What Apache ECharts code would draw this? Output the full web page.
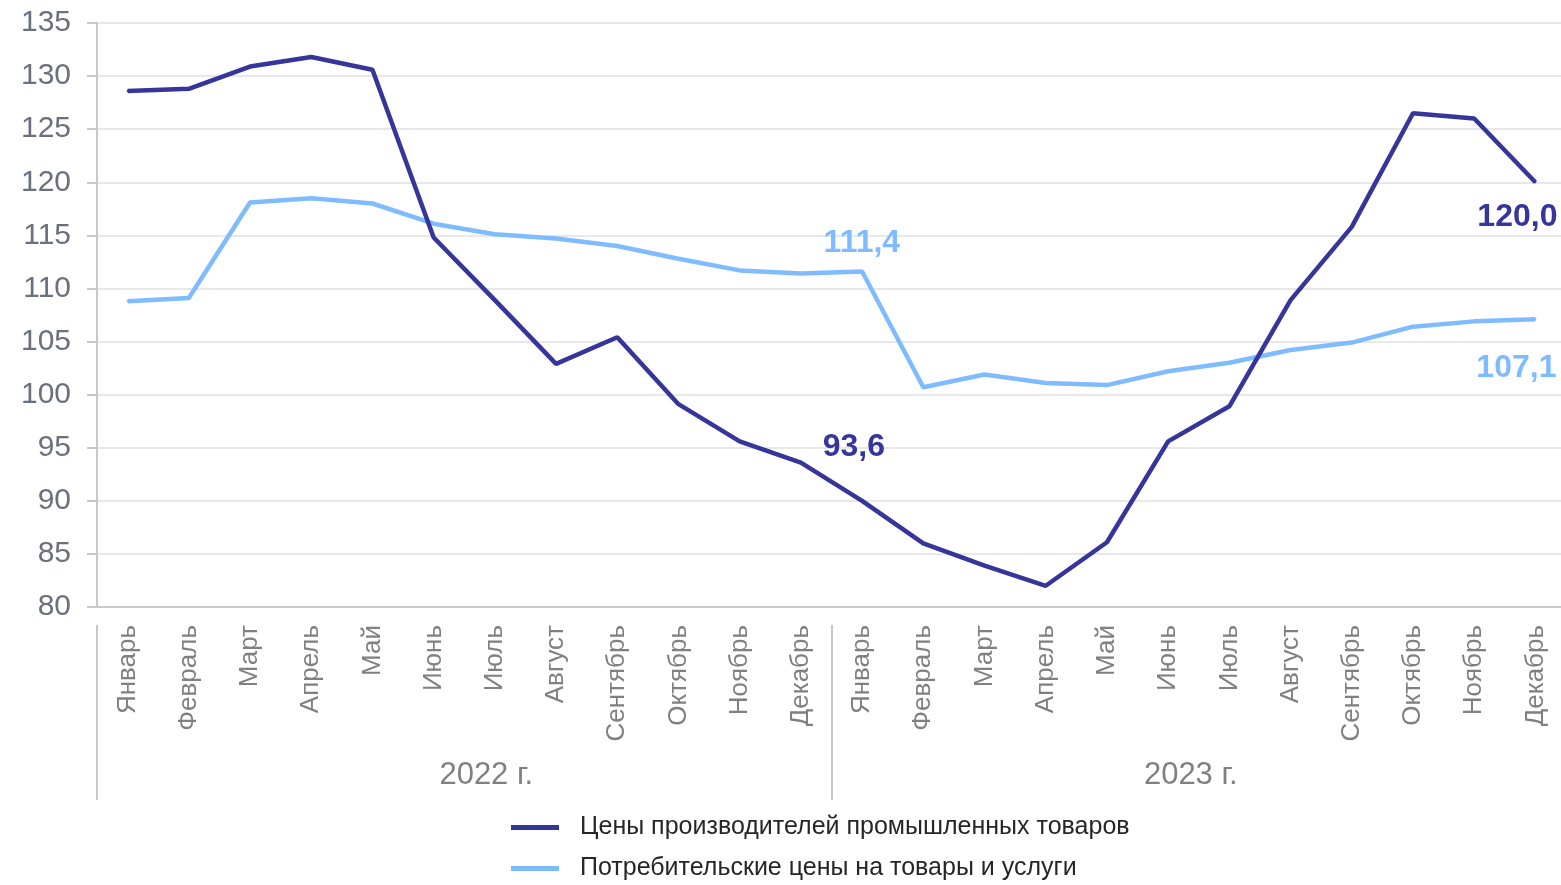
<!DOCTYPE html>
<html>
<head>
<meta charset="utf-8">
<script src="https://cdn.jsdelivr.net/npm/echarts@6/dist/echarts.min.js"></script>
<style>
    html, body { margin: 0; padding: 0; background: #fff; overflow: hidden; }
    #chart { width: 1570px; height: 885px; }
</style>
</head>
<body>
<div id="chart"></div>
<script>
// месяцы (два года подряд)
var months = ['Январь', 'Февраль', 'Март', 'Апрель', 'Май', 'Июнь', 'Июль', 'Август', 'Сентябрь', 'Октябрь', 'Ноябрь', 'Декабрь',
    'Январь', 'Февраль', 'Март', 'Апрель', 'Май', 'Июнь', 'Июль', 'Август', 'Сентябрь', 'Октябрь', 'Ноябрь', 'Декабрь'];
var years = ['2022 г.', '2023 г.'];

// цены производителей промышленных товаров
var producerPrices = [128.6, 128.8, 130.9, 131.8, 130.6, 114.8, 108.9, 102.9, 105.4, 99.1, 95.6, 93.6,
    90.0, 86.0, 83.9, 82.0, 86.1, 95.6, 98.9, 108.9, 115.8, 126.5, 126.0, 120.0];
// потребительские цены
var consumerPrices = [108.8, 109.1, 118.1, 118.5, 118.0, 116.1, 115.1, 114.7, 114.0, 112.8, 111.7, 111.4,
    111.6, 100.7, 101.9, 101.1, 100.9, 102.2, 103.0, 104.2, 104.9, 106.4, 106.9, 107.1];

var seriesNames = ['Цены производителей промышленных товаров', 'Потребительские цены на товары и услуги'];

var darkColor = '#35359a';
var lightColor = '#7fbcff';
var font = 'Liberation Sans, Arial, sans-serif';

function fmt(p) {
    return p.value.toFixed(1).replace('.', ',');
}

// подписи только у отдельных точек
function markedData(values, marks) {
    return values.map(function (v, i) {
        if (marks[i]) {
            return { value: v, label: Object.assign({ show: true }, marks[i]) };
        }
        return v;
    });
}

var labelStyle = { fontSize: 32, fontWeight: 'bold', fontFamily: font, formatter: fmt };

var chart = echarts.init(document.getElementById('chart'));
chart.setOption({
    backgroundColor: '#fff',
    animation: false,
    grid: { left: 97, right: 4, top: 23, bottom: 278 },
    legend: {
        orient: 'vertical',
        left: 506,
        top: 810,
        height: 75,
        itemWidth: 48,
        itemHeight: 5,
        itemGap: 16,
        icon: 'rect',
        textStyle: { fontSize: 25, color: '#262626', fontFamily: font, padding: [0, 0, 0, 16], lineHeight: 25 },
        data: seriesNames
    },
    xAxis: [{
        type: 'category',
        data: months,
        axisLine: { lineStyle: { color: '#c8c8c8', width: 2 } },
        axisTick: { show: false },
        axisLabel: { rotate: 90, margin: 18, fontSize: 26, color: '#808080', fontFamily: font, interval: 0 }
    }, {
        // года + вертикальные разделители
        type: 'category',
        position: 'bottom',
        offset: 18,
        data: years,
        axisLine: { show: false },
        axisTick: { show: true, length: 175, lineStyle: { color: '#c8c8c8', width: 2 } },
        axisLabel: {
            margin: 135,
            color: '#808080',
            fontFamily: font,
            formatter: function (v, i) { return i === 0 ? '{a|' + v + '}' : '{b|' + v + '}'; },
            rich: {
                a: { fontSize: 31, color: '#808080', fontFamily: font, padding: [0, 0, 0, 44] },
                b: { fontSize: 31, color: '#808080', fontFamily: font, padding: [0, 16, 0, 0] }
            }
        }
    }],
    yAxis: {
        type: 'value',
        min: 80,
        max: 135,
        interval: 5,
        axisLine: { show: true, lineStyle: { color: '#c8c8c8', width: 2 } },
        axisTick: { show: true, length: 10, lineStyle: { color: '#c8c8c8', width: 2 } },
        axisLabel: { fontSize: 30, color: '#6a707c', fontFamily: font, margin: 26 },
        splitLine: { lineStyle: { color: '#e8e8e8', width: 2 } }
    },
    series: [{
        name: seriesNames[0],
        type: 'line',
        data: markedData(producerPrices, {
            11: { position: 'top', offset: [53, 7] },
            23: { position: 'bottom', offset: [-18, 13] }
        }),
        showSymbol: true,
        symbol: 'circle',
        symbolSize: 2,
        color: darkColor,
        lineStyle: { color: darkColor, width: 4.5 },
        label: Object.assign({ show: false, color: darkColor }, labelStyle),
        z: 3
    }, {
        name: seriesNames[1],
        type: 'line',
        data: markedData(consumerPrices, {
            11: { position: 'top', offset: [61, -8] },
            23: { position: 'bottom', offset: [-19, 27] }
        }),
        showSymbol: true,
        symbol: 'circle',
        symbolSize: 2,
        color: lightColor,
        lineStyle: { color: lightColor, width: 4.5 },
        label: Object.assign({ show: false, color: lightColor }, labelStyle),
        z: 2
    }]
});
</script>
</body>
</html>
